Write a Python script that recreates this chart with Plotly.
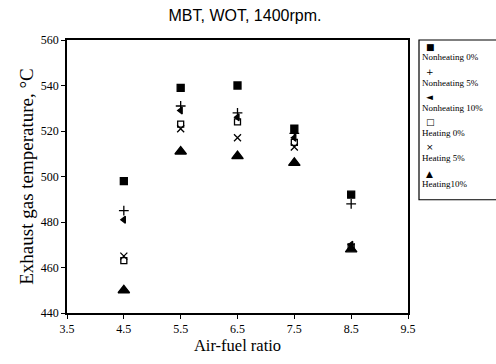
import plotly.graph_objects as go

afr = [4.5, 5.5, 6.5, 7.5, 8.5]
nonheating_0 = [498, 539, 540, 521, 492]
nonheating_5 = [485, 531, 528, 519, 488]
nonheating_10 = [481, 529, 526, 517, 470]
heating_0 = [463, 523, 524, 515, 469]
heating_5 = [465, 521, 517, 513, 469]
heating_10 = [450, 511, 509, 506, 468]

series_names = ["Nonheating 0%", "Nonheating 5%", "Nonheating 10%",
                "Heating 0%", "Heating 5%", "Heating10%"]
series_vals = [nonheating_0, nonheating_5, nonheating_10, heating_0, heating_5, heating_10]
symbols = ["square", "cross-thin", "triangle-left", "square-open", "x-thin", "triangle-up"]
sizes = [7, 7, 6, 6, 7, 10]
glyphs = ["■", "+", "◄", "□", "×", "▲"]

x_ticks = [3.5, 4.5, 5.5, 6.5, 7.5, 8.5, 9.5]
y_ticks = [440, 460, 480, 500, 520, 540, 560]

fig = go.Figure()
for name, vals, sym, sz in zip(series_names, series_vals, symbols, sizes):
    fig.add_trace(go.Scatter(
        x=afr, y=vals, mode="markers", name=name,
        marker=dict(symbol=sym, size=sz, color="black",
                    line=dict(color="black", width=1.3)),
        showlegend=False))

serif = "Liberation Serif"
fig.update_layout(
    width=496, height=364,
    margin=dict(l=67, r=88, t=40, b=42),
    paper_bgcolor="white", plot_bgcolor="white",
    title=dict(text="MBT, WOT, 1400rpm.", x=245/496, xanchor="center",
               y=1-15/364, yanchor="middle",
               font=dict(family="Liberation Sans", size=16, color="black")),
    xaxis=dict(range=[3.5, 9.5], tickvals=x_ticks, ticktext=[str(v) for v in x_ticks],
               showgrid=False, zeroline=False, showline=True, linecolor="black",
               linewidth=1.5, mirror=True, ticks="outside", ticklen=4,
               tickcolor="black", tickfont=dict(family=serif, size=12, color="black"),
               title=dict(text="Air-fuel ratio", standoff=4,
                          font=dict(family=serif, size=16.5, color="black"))),
    yaxis=dict(range=[440, 560], tickvals=y_ticks, ticktext=[str(v) for v in y_ticks],
               showgrid=False, zeroline=False, showline=True, linecolor="black",
               linewidth=1.5, mirror=True, ticks="outside", ticklen=4,
               tickcolor="black", tickfont=dict(family=serif, size=12, color="black"),
               title=dict(text="Exhaust gas temperature, °C", standoff=2,
                          font=dict(family=serif, size=19, color="black"))),
)

# Custom legend box (marker above label, as in the reference)
# pixel -> paper: paper x = (px-67)/341, paper y = (322-py)/282
def px(xp):
    return (xp - 67) / 341.0
def py(yp):
    return (322 - yp) / 282.0

x0, x1 = 419, 499
y0, y1 = 40, 205
fig.add_shape(type="rect", xref="paper", yref="paper",
              x0=px(x0), x1=px(x1), y0=py(y1), y1=py(y0),
              line=dict(color="black", width=1.2), fillcolor="white", layer="above")
item_y = [47, 73, 99, 125, 151, 178]
for g, name, yy in zip(glyphs, series_names, item_y):
    fig.add_annotation(xref="paper", yref="paper", x=px(424), y=py(yy),
                       text=g, showarrow=False, xanchor="left", yanchor="middle",
                       font=dict(family="DejaVu Sans", size=9, color="black"))
    fig.add_annotation(xref="paper", yref="paper", x=px(420), y=py(yy + 11),
                       text=name, showarrow=False, xanchor="left", yanchor="middle",
                       font=dict(family=serif, size=9, color="black"))

fig.write_html("out.html")
